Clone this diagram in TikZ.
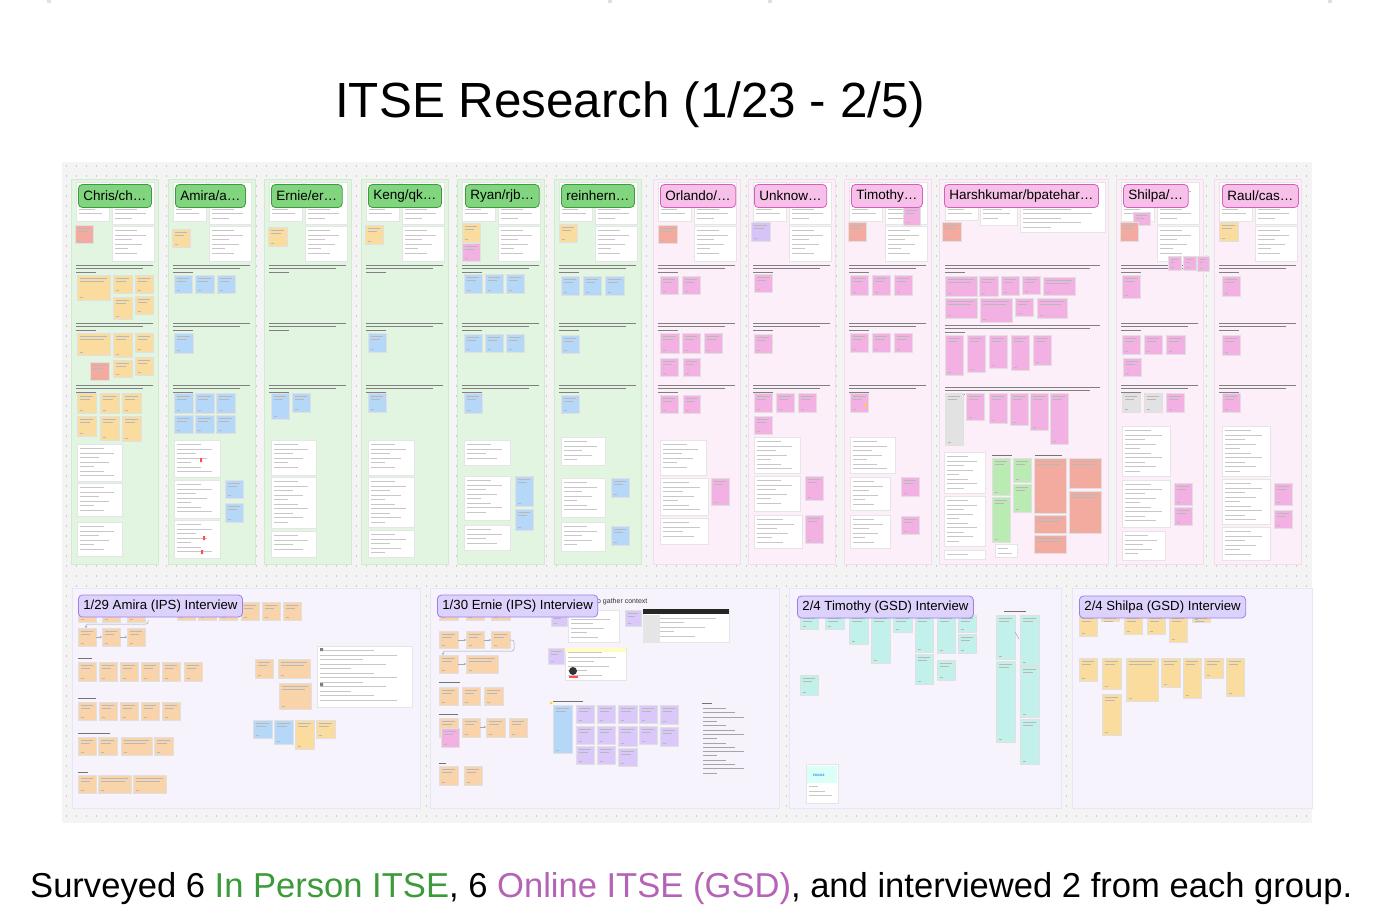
\documentclass[tikz,border=0pt]{standalone}
\usepackage{fontspec}
\setmainfont{Liberation Sans}
\usepackage{graphicx}
\usetikzlibrary{arrows.meta}
\definecolor{boardbg}{HTML}{F4F4F4}
\definecolor{dotc}{HTML}{CDCDCD}
\definecolor{grcol}{HTML}{E2F5E0}
\definecolor{grcolb}{HTML}{D2EBCF}
\definecolor{pkcol}{HTML}{FCEFF9}
\definecolor{pkcolb}{HTML}{F1DDEB}
\definecolor{grtag}{HTML}{80D57E}
\definecolor{grtagb}{HTML}{3F9A3D}
\definecolor{pktag}{HTML}{F6C0E9}
\definecolor{pktagb}{HTML}{D65DBB}
\definecolor{secbg}{HTML}{F6F3FD}
\definecolor{secbgb}{HTML}{E9E4F6}
\definecolor{lvtag}{HTML}{DDD2FB}
\definecolor{lvtagb}{HTML}{9C80EA}
\definecolor{stY}{HTML}{F9DC9E}
\definecolor{stB}{HTML}{B5D8F9}
\definecolor{stP}{HTML}{F2B1E2}
\definecolor{stS}{HTML}{F2AB9E}
\definecolor{stL}{HTML}{D6C4F8}
\definecolor{stO}{HTML}{F9D3AA}
\definecolor{stC}{HTML}{C2F0EA}
\definecolor{stG}{HTML}{B9EBB3}
\definecolor{stGr}{HTML}{E2E2E2}
\definecolor{stV}{HTML}{D9C8F9}
\definecolor{capgreen}{HTML}{3B9A39}
\definecolor{cappurple}{HTML}{B463B6}
\tikzset{
  stl/.style={black!28,line width=0.35pt},
  wl/.style={black!22,line width=0.35pt},
  ql/.style={black!50,line width=0.6pt},
  tagG/.style={draw=grtagb,fill=grtag,rounded corners=4pt,line width=0.8pt,minimum height=23pt,inner xsep=5pt,inner ysep=0pt,font=\fontsize{13.5}{15}\selectfont,anchor=west,text=black},
  tagP/.style={tagG,draw=pktagb,fill=pktag},
  tagL/.style={tagG,draw=lvtagb,fill=lvtag,minimum height=22pt,font=\fontsize{13.2}{15}\selectfont},
  colG/.style={fill=grcol,draw=grcolb,line width=0.4pt},
  colP/.style={fill=pkcol,draw=pkcolb,line width=0.4pt},
  sect/.style={fill=secbg,draw=secbgb,line width=0.4pt},
  conn/.style={black!35,line width=0.5pt,rounded corners=2pt},
  conna/.style={conn,-{Stealth[length=2pt,width=2pt]}},
}
\newcommand\mkS[5]{%
  \fill[#5,draw=black!12,line width=0.3pt] (#1,#2) rectangle (#3,#4);
  \draw[stl] ({#1+2.5},{#2+3.5}) -- ({(#3)-3},{#2+3.5}) ({#1+2.5},{#2+6}) -- ({(#3)-6},{#2+6}) ({#1+2.5},{(#4)-2.5}) -- ({#1+6},{(#4)-2.5});}
\newcommand\mkW[4]{%
  \fill[white,draw=black!10,line width=0.3pt] (#1,#2) rectangle (#3,#4);
  \pgfmathtruncatemacro\nL{((#4)-(#2)-4)/4.5}%
  \pgfmathsetmacro\wdL{(#3)-(#1)-6}%
  \foreach \k in {1,...,\nL}{%
    \pgfmathsetmacro\lenL{\wdL*(0.35+0.13*mod(\k*7,5))}%
    \draw[wl] ({#1+3},{#2+\k*4.5}) -- ++(\lenL,0);}}
\newcommand\mkQ[3]{\draw[ql] (#1,#2) -- (#3,#2) (#1,{#2+3.5}) -- ({(#3)-10},{#2+3.5}) (#1,{#2+7}) -- ({#1+20},{#2+7});}
\newcommand\mkLb[3]{\draw[black!55,line width=0.7pt] (#1,#2) -- (#3,#2);}
\begin{document}
\begin{tikzpicture}[x=1pt,y=-1pt]
\useasboundingbox[fill=white] (0,0) rectangle (1380,920);
% faint marks at top
\foreach \mx in {49,610,770,1330}{\fill[black!12] (\mx-2,0) rectangle (\mx+2,3);}
% title
\node[anchor=base west,inner sep=0pt] (title) at (335,118) {\resizebox{590pt}{!}{\fontsize{50}{60}\selectfont ITSE Research (1/23 - 2/5)}};
% board
\fill[boardbg] (62,162) rectangle (1312,823);
\foreach \yy in {166,176,...,820}
  \draw[dotc,line width=1.3pt,dash pattern=on 1.3pt off 8.7pt] (66,\yy) -- (1310,\yy);
% ---------------- columns ----------------
\foreach \cx in {71,168,264,361,457,554}{\fill[colG] (\cx,179) rectangle (\cx+87,564);}
\foreach \cx in {653,748,844,1116,1214}{\fill[colP] (\cx,179) rectangle (\cx+87,564);}
\fill[colP] (939,179) rectangle (1108,564);
% common top screenshots and question lines
\foreach \cx in {71,168,264,361,457,554,653,748,844,1116,1214}{
  \mkW{\cx+5}{182}{\cx+38}{221}
  \mkW{\cx+41}{182}{\cx+83}{224}
  \mkW{\cx+41}{226}{\cx+83}{261}
  \mkQ{\cx+5}{265}{\cx+82}
  \mkQ{\cx+5}{323}{\cx+82}
  \mkQ{\cx+5}{385}{\cx+82}
}
% Chris
\mkS{75}{225}{93}{243}{stS}
\mkS{77}{275}{110}{300}{stY}\mkS{113}{275}{132}{293}{stY}\mkS{135}{275}{153}{293}{stY}
\mkS{113}{297}{132}{319}{stY}\mkS{135}{296}{153}{314}{stY}
\mkS{77}{333}{110}{355}{stY}\mkS{113}{333}{132}{357}{stY}\mkS{135}{333}{153}{352}{stY}
\mkS{90}{362}{109}{380}{stS}\mkS{113}{360}{132}{377}{stY}\mkS{135}{357}{153}{375}{stY}
\mkS{77}{393}{96}{413}{stY}\mkS{100}{393}{119}{413}{stY}\mkS{122}{393}{141}{413}{stY}
\mkS{77}{416}{96}{436}{stY}\mkS{100}{416}{119}{440}{stY}\mkS{122}{416}{141}{441}{stY}
\mkW{77}{444}{122}{481}\mkW{77}{483}{122}{516}\mkW{77}{522}{122}{556}
% Amira
\mkS{172}{229}{190}{247}{stY}
\mkS{174}{275}{192}{293}{stB}\mkS{195}{275}{214}{293}{stB}\mkS{217}{275}{235}{293}{stB}
\mkS{174}{333}{193}{353}{stB}
\mkS{174}{393}{193}{413}{stB}\mkS{195}{393}{214}{413}{stB}\mkS{216}{393}{235}{413}{stB}
\mkS{174}{415}{193}{433}{stB}\mkS{195}{415}{214}{433}{stB}\mkS{216}{415}{235}{433}{stB}
\mkW{174}{440}{220}{477}\mkW{174}{480}{220}{518}\mkW{174}{520}{220}{558}
\mkS{225}{480}{243}{498}{stB}\mkS{225}{503}{243}{522}{stB}
\fill[red!70] (200,458) rectangle (202,462) (203,536) rectangle (205,540) (201,550) rectangle (203,554);
% Ernie
\mkS{268}{227}{287}{246}{stY}
\mkS{271}{393}{289}{419}{stB}\mkS{292}{393}{310}{412}{stB}
\mkW{271}{440}{316}{475}\mkW{271}{477}{316}{528}\mkW{271}{531}{316}{557}
% Keng
\mkS{365}{225}{383}{244}{stY}
\mkS{368}{333}{386}{352}{stB}
\mkS{368}{393}{386}{412}{stB}
\mkW{368}{440}{414}{475}\mkW{368}{477}{414}{527}\mkW{368}{530}{414}{557}
% Ryan
\mkS{462}{223}{480}{242}{stY}\mkS{462}{243}{480}{261}{stP}
\mkS{464}{274}{482}{293}{stB}\mkS{485}{274}{503}{293}{stB}\mkS{506}{274}{524}{293}{stB}
\mkS{464}{334}{482}{352}{stB}\mkS{485}{334}{503}{352}{stB}\mkS{506}{334}{524}{352}{stB}
\mkS{464}{393}{482}{413}{stB}
\mkW{464}{440}{510}{465}\mkW{464}{476}{510}{520}\mkW{464}{525}{510}{550}
\mkS{515}{476}{533}{506}{stB}\mkS{515}{509}{533}{530}{stB}
% reinhern
\mkS{559}{224}{577}{242}{stY}
\mkS{561}{276}{579}{295}{stB}\mkS{583}{276}{601}{295}{stB}\mkS{605}{276}{624}{295}{stB}
\mkS{561}{335}{579}{353}{stB}
\mkS{561}{395}{579}{413}{stB}
\mkW{561}{437}{605}{465}\mkW{561}{478}{605}{517}\mkW{561}{522}{605}{551}
\mkS{611}{478}{629}{497}{stB}\mkS{611}{526}{629}{545}{stB}
% Orlando
\mkS{658}{225}{677}{243}{stS}
\mkS{660}{276}{678}{294}{stP}\mkS{682}{276}{700}{294}{stP}
\mkS{660}{333}{679}{353}{stP}\mkS{682}{333}{700}{353}{stP}\mkS{704}{333}{722}{353}{stP}
\mkS{660}{358}{678}{376}{stP}\mkS{683}{358}{700}{376}{stP}
\mkS{660}{395}{678}{413}{stP}\mkS{683}{395}{700}{413}{stP}
\mkW{660}{440}{706}{475}\mkW{660}{478}{708}{515}\mkW{660}{518}{708}{544}
\mkS{711}{478}{729}{505}{stP}
% Unknow
\mkS{751}{222}{770}{241}{stL}
\mkS{754}{274}{772}{292}{stP}
\mkS{754}{334}{772}{353}{stP}
\mkS{754}{393}{772}{412}{stP}\mkS{776}{393}{794}{412}{stP}\mkS{798}{393}{816}{412}{stP}
\mkS{754}{416}{772}{434}{stP}
\mkW{754}{437}{800}{473}\mkW{754}{476}{800}{511}\mkW{754}{515}{802}{548}
\mkS{805}{476}{823}{500}{stP}\mkS{805}{515}{823}{543}{stP}
% Timothy
\mkS{903}{207}{920}{225}{stP}
\mkS{848}{222}{866}{241}{stS}
\mkS{850}{275}{868}{295}{stP}\mkS{872}{275}{890}{295}{stP}\mkS{894}{275}{912}{295}{stP}
\mkS{850}{333}{868}{352}{stP}\mkS{872}{333}{890}{352}{stP}\mkS{894}{333}{912}{352}{stP}
\mkS{850}{393}{868}{412}{stP}\fill[yellow!80!orange] (865,405) circle (1.5);
\mkW{850}{437}{895}{473}\mkW{850}{477}{890}{510}\mkW{850}{515}{890}{548}
\mkS{901}{477}{919}{496}{stP}\mkS{901}{516}{919}{534}{stP}
% Harshkumar
\mkW{945}{182}{978}{220}\mkW{980}{182}{1017}{225}\mkW{1020}{182}{1105}{232}
\mkS{942}{222}{961}{241}{stS}
\mkQ{945}{265}{1100}
\mkS{945}{276}{977}{296}{stP}\mkS{979}{276}{998}{296}{stP}\mkS{1001}{276}{1019}{295}{stP}\mkS{1022}{276}{1040}{294}{stP}\mkS{1043}{277}{1075}{295}{stP}
\mkS{945}{298}{977}{318}{stP}\mkS{980}{298}{1012}{322}{stP}\mkS{1015}{298}{1033}{316}{stP}\mkS{1037}{298}{1067}{318}{stP}
\mkQ{945}{325}{1100}
\mkS{945}{335}{963}{375}{stP}\mkS{967}{335}{985}{372}{stP}\mkS{989}{335}{1007}{368}{stP}\mkS{1011}{335}{1029}{370}{stP}\mkS{1033}{335}{1051}{365}{stP}
\mkQ{945}{387}{1100}
\mkS{945}{393}{963}{445}{stGr}\mkS{966}{393}{984}{420}{stP}\mkS{989}{393}{1007}{423}{stP}\mkS{1010}{393}{1028}{425}{stP}\mkS{1030}{393}{1048}{430}{stP}\mkS{1050}{393}{1068}{444}{stP}
\mkW{944}{452}{985}{493}\mkW{944}{496}{985}{546}\mkW{944}{550}{985}{559}
\mkLb{992}{455}{1012}
\mkS{992}{458}{1010}{495}{stG}\mkS{1013}{458}{1031}{482}{stG}\mkS{1013}{484}{1031}{512}{stG}\mkS{992}{497}{1010}{542}{stG}
\mkLb{1035}{455}{1062}
\mkS{1034}{458}{1066}{513}{stS}\mkS{1069}{458}{1101}{488}{stS}\mkS{1069}{491}{1101}{533}{stS}\mkS{1034}{515}{1066}{533}{stS}\mkS{1034}{535}{1066}{553}{stS}
\mkW{995}{544}{1017}{557}
% Shilpa
\mkS{1133}{212}{1150}{225}{stP}
\mkS{1120}{222}{1138}{241}{stS}
\mkS{1168}{256}{1181}{270}{stP}\mkS{1183}{256}{1196}{270}{stP}\mkS{1197}{256}{1209}{271}{stP}
\mkS{1122}{275}{1140}{298}{stP}
\mkS{1122}{335}{1140}{354}{stP}\mkS{1144}{335}{1162}{354}{stP}\mkS{1166}{335}{1185}{354}{stP}
\mkS{1123}{358}{1141}{376}{stP}
\mkS{1122}{393}{1140}{412}{stGr}\mkS{1144}{393}{1162}{412}{stGr}\mkS{1166}{393}{1184}{412}{stP}
\mkW{1122}{426}{1170}{476}\mkW{1122}{480}{1170}{527}\mkW{1122}{531}{1165}{560}
\mkS{1174}{483}{1192}{505}{stP}\mkS{1174}{507}{1192}{525}{stP}
% Raul
\mkS{1219}{222}{1238}{241}{stY}
\mkS{1222}{276}{1240}{296}{stP}
\mkS{1222}{335}{1240}{355}{stP}
\mkS{1222}{393}{1240}{412}{stP}
\mkW{1222}{426}{1270}{476}\mkW{1222}{479}{1270}{524}\mkW{1222}{527}{1270}{560}
\mkS{1274}{483}{1292}{505}{stP}\mkS{1274}{510}{1292}{528}{stP}
% column tags
\node[tagG] (tChris) at (78,196) {Chris/ch…};
\node[tagG] (tAmira) at (175,196) {Amira/a…};
\node[tagG] (tErnie) at (271,196) {Ernie/er…};
\node[tagG] (tKeng) at (368,196) {Keng/qk…};
\node[tagG] (tRyan) at (465,196) {Ryan/rjb…};
\node[tagG] (tRein) at (561,196) {reinhern…};
\node[tagP] (tOrl) at (660,196) {Orlando/…};
\node[tagP] (tUnk) at (754,196) {Unknow…};
\node[tagP] (tTim) at (851,196) {Timothy…};
\node[tagP] (tHar) at (944,196) {Harshkumar/bpatehar…};
\node[tagP] (tShi) at (1123,196) {Shilpa/…};
\node[tagP] (tRau) at (1222,196) {Raul/cas…};
% ---------------- bottom sections ----------------
\fill[sect] (72,588) rectangle (420,808);
\fill[sect] (430,588) rectangle (779,808);
\fill[sect] (789,588) rectangle (1061,808);
\fill[sect] (1072,588) rectangle (1312,808);
% section 1
\mkS{78}{604}{96}{622}{stO}\mkS{102}{604}{120}{622}{stO}\mkS{127}{604}{145}{622}{stO}
\foreach \sx in {177,198,219,241,262,283}{\mkS{\sx}{602}{\sx+18}{620}{stO}}
\coordinate (a1) at (148,620); \coordinate (a2) at (86,628);
\draw[conna] (a1) -- (148,624) -- (86,624) -- (a2);
\mkS{78}{628}{96}{646}{stO}\mkS{102}{628}{120}{646}{stO}\mkS{127}{628}{145}{646}{stO}
\coordinate (b1) at (96,637); \coordinate (b2) at (102,637); \coordinate (b3) at (120,637); \coordinate (b4) at (127,637);
\draw[conna] (b1) -- (b2); \draw[conna] (b3) -- (b4);
\mkLb{78}{658}{92}
\foreach \sx in {78,99,120,141,162,184}{\mkS{\sx}{662}{\sx+18}{681}{stO}}
\mkLb{78}{698}{96}
\foreach \sx in {78,99,120,141,162}{\mkS{\sx}{702}{\sx+18}{720}{stO}}
\mkLb{78}{733}{110}
\mkS{78}{737}{96}{755}{stO}\mkS{98}{737}{117}{755}{stO}\mkS{121}{737}{152}{755}{stO}\mkS{154}{737}{173}{755}{stO}
\mkLb{78}{772}{88}
\mkS{78}{775}{96}{793}{stO}\mkS{98}{775}{131}{793}{stO}\mkS{133}{775}{166}{793}{stO}
\mkS{255}{659}{273}{678}{stO}\mkS{278}{659}{310}{678}{stO}\mkS{279}{683}{311}{709}{stO}
\mkW{317}{646}{412}{707}
\fill[black!50] (320,648) rectangle (323,651) (320,683) rectangle (323,686);
\mkS{253}{720}{272}{738}{stB}\mkS{274}{720}{293}{744}{stB}\mkS{295}{720}{314}{749}{stY}\mkS{316}{720}{335}{738}{stY}
\node[tagL] (iAmira) at (78,606) {1/29 Amira (IPS) Interview};
% section 2
\node[anchor=west,inner sep=0pt,font=\fontsize{7}{8}\selectfont,text=black!80] (ctx) at (595,602) {to gather context};
\mkS{439}{604}{458}{620}{stO}\mkS{466}{604}{484}{620}{stO}\mkS{491}{604}{510}{620}{stO}
\mkS{439}{631}{458}{648}{stO}\mkS{466}{631}{484}{648}{stO}\mkS{491}{631}{510}{648}{stO}
\draw[conna] (458,640) -- (466,640); \draw[conna] (484,640) -- (491,640);
\coordinate (c1) at (510,640); \coordinate (c2) at (443,655);
\draw[conna] (c1) -- (514,640) -- (514,651) -- (443,651) -- (c2);
\mkS{439}{655}{458}{673}{stO}\mkS{466}{655}{498}{673}{stO}
\draw[conna] (458,664) -- (466,664);
\mkLb{439}{682}{460}
\mkS{439}{687}{458}{705}{stO}\mkS{462}{687}{480}{705}{stO}\mkS{484}{687}{503}{705}{stO}
\mkLb{439}{714}{458}
\mkS{439}{718}{458}{737}{stO}\mkS{462}{718}{480}{737}{stO}\mkS{486}{718}{505}{737}{stO}\mkS{509}{718}{527}{737}{stO}
\draw[conna] (480,727) -- (486,727);
\mkS{441}{728}{459}{747}{stP}
\mkLb{439}{763}{446}
\mkS{439}{766}{458}{785}{stO}\mkS{464}{766}{482}{785}{stO}
\mkS{551}{612}{567}{626}{stV}
\mkW{568}{610}{619}{642}
\mkS{625}{610}{641}{626}{stV}
\mkW{643}{609}{729}{642}
\fill[black!85] (643,609) rectangle (729,614);
\fill[black!10] (643,615) rectangle (660,642);
\mkS{548}{648}{564}{664}{stV}
\mkW{565}{648}{626}{680}
\fill[yellow!25] (565,648) rectangle (626,652);
\fill[black!80] (573,671) circle (4);
\fill[red!70] (569,676) rectangle (578,678);
\fill[yellow!80!orange] (551,703) circle (1.5);
\mkLb{553}{701}{583}
\mkS{553}{705}{572}{753}{stB}
\mkS{576}{705}{594}{723}{stV}\mkS{576}{726}{594}{744}{stV}\mkS{576}{746}{594}{764}{stV}
\mkS{597}{705}{615}{723}{stV}\mkS{597}{726}{615}{744}{stV}\mkS{597}{746}{615}{764}{stV}
\mkS{618}{705}{637}{723}{stV}\mkS{618}{726}{637}{746}{stV}\mkS{618}{748}{637}{766}{stV}
\mkS{639}{705}{657}{723}{stV}\mkS{639}{726}{657}{744}{stV}
\mkS{660}{705}{678}{724}{stV}\mkS{660}{727}{678}{746}{stV}
\mkLb{702}{703}{712}
\foreach \k in {1,...,16}{\pgfmathsetmacro\lenL{14+9*mod(\k*5,4)}\draw[wl,black!35] (703,704+\k*4.3) -- ++(\lenL,0);}
\node[tagL] (iErnie) at (437,606) {1/30 Ernie (IPS) Interview};
% section 3
\mkS{800}{615}{818}{629}{stC}\mkS{825}{615}{844}{629}{stC}\mkS{849}{615}{868}{644}{stC}\mkS{871}{615}{890}{663}{stC}
\mkS{893}{615}{912}{632}{stC}\mkS{915}{615}{933}{652}{stC}\mkS{915}{654}{933}{684}{stC}
\mkS{937}{615}{955}{653}{stC}\mkS{937}{660}{955}{680}{stC}\mkS{958}{615}{976}{632}{stC}\mkS{958}{634}{976}{653}{stC}
\mkS{800}{675}{818}{695}{stC}
\mkLb{1004}{611}{1026}
\mkS{996}{615}{1015}{659}{stC}\mkS{996}{661}{1015}{742}{stC}
\mkS{1020}{615}{1039}{665}{stC}\mkS{1020}{666}{1039}{717}{stC}\mkS{1020}{719}{1039}{764}{stC}
\coordinate (d1) at (1015,632); \coordinate (d2) at (1019,639);
\draw[conn] (d1) -- (d2);
\mkW{806}{764}{838}{803}
\fill[green!25!cyan!15] (807,766) rectangle (837,783);
\node[anchor=west,inner sep=0pt,font=\fontsize{3.2}{3.5}\selectfont\bfseries,text=blue!50!cyan] (focus) at (813,775) {FOCUS};
\node[tagL] (iTim) at (797,607) {2/4 Timothy (GSD) Interview};
% section 4
\mkS{1079}{615}{1097}{636}{stY}\mkS{1101}{615}{1119}{621}{stY}\mkS{1124}{615}{1142}{634}{stY}\mkS{1147}{615}{1165}{634}{stY}\mkS{1169}{615}{1187}{642}{stY}\mkS{1192}{615}{1210}{622}{stY}
\mkS{1079}{658}{1097}{681}{stY}\mkS{1102}{658}{1121}{689}{stY}\mkS{1126}{658}{1158}{701}{stY}\mkS{1161}{658}{1180}{687}{stY}\mkS{1183}{658}{1201}{698}{stY}\mkS{1204}{658}{1223}{678}{stY}\mkS{1226}{658}{1244}{696}{stY}
\mkS{1102}{694}{1121}{735}{stY}
\node[tagL] (iShi) at (1079,607) {2/4 Shilpa (GSD) Interview};
% caption
\node[anchor=base west,inner sep=0pt] (caption) at (30,897) {\resizebox{1322pt}{!}{\fontsize{36}{42}\selectfont Surveyed 6 \textcolor{capgreen}{In Person ITSE}, 6 \textcolor{cappurple}{Online ITSE (GSD)}, and interviewed 2 from each group.}};
\end{tikzpicture}
\end{document}
